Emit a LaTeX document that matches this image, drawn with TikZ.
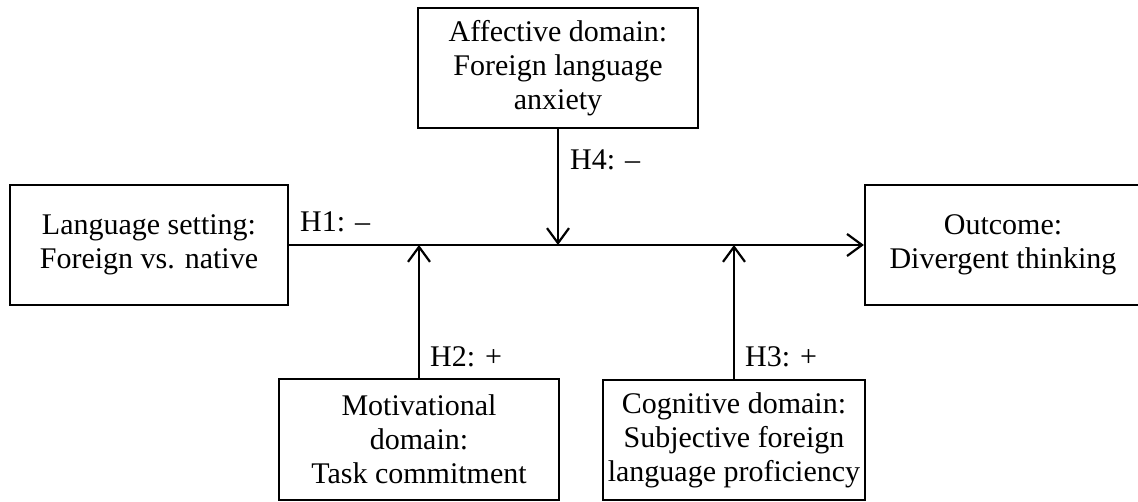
\documentclass[tikz,border=0pt]{standalone}
\usepackage{fontspec}
\setmainfont{Liberation Serif}
\usetikzlibrary{arrows.meta}
\begin{document}
\begin{tikzpicture}[x=1pt,y=-1pt,
  box/.style={draw,line width=2.2pt,align=center,inner sep=0pt,
    font=\fontsize{30}{34}\selectfont},
  conn/.style={line width=2.2pt,-{Straight Barb[length=15pt,width=22pt,line width=2.2pt]}},
  hlab/.style={anchor=base west,inner sep=0pt,font=\fontsize{30}{34}\selectfont}]
\useasboundingbox (0,0) rectangle (1138,502);
\node[box,minimum width=278,minimum height=120] (lang) at (149,245) {Language setting:\\Foreign vs. native};
\node[box,minimum width=280,minimum height=120] (aff) at (558,68) {Affective domain:\\Foreign language\\anxiety};
\node[box,minimum width=276,minimum height=120] (out) at (1003,245) {Outcome:\\Divergent thinking};
\node[box,minimum width=280,minimum height=121] (mot) at (419,439.5) {Motivational\\domain:\\Task commitment};
\node[box,minimum width=262,minimum height=120] (cog) at (734,440) {Cognitive domain:\\Subjective foreign\\language proficiency};
\coordinate (p4) at (aff.south |- lang.east);
\coordinate (p2) at (mot.north |- lang.east);
\coordinate (p3) at (cog.north |- lang.east);
\draw[conn] (lang.east) -- (out.west);
\draw[conn] (aff.south) -- (p4);
\draw[conn] (mot.north) -- (p2);
\draw[conn] (cog.north) -- (p3);
\node[hlab] (h1) at (300,232) {H1: \textendash};
\node[hlab] (h4) at (570,170) {H4: \textendash};
\node[hlab] (h2) at (430,367) {H2: +};
\node[hlab] (h3) at (745,367) {H3: +};
\end{tikzpicture}
\end{document}
